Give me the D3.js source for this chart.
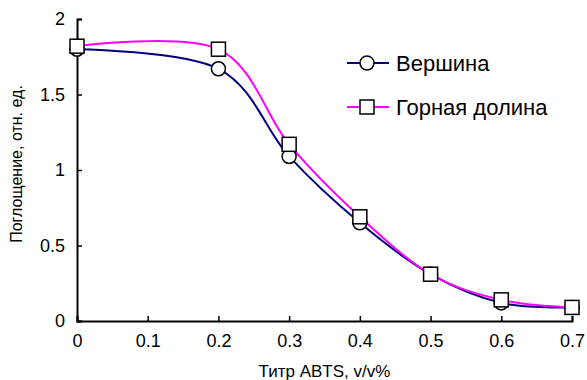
<!DOCTYPE html>
<html>
<head>
<meta charset="utf-8">
<script src="https://cdn.jsdelivr.net/npm/d3@7"></script>
<style>
  body { margin: 0; background: #fff; }
  text { font-family: "Liberation Sans", Arial, sans-serif; fill: #000; }
</style>
</head>
<body>
<div class="chart-wrapper"></div>
<script>
// Data
var titr = [0, 0.2, 0.3, 0.4, 0.5, 0.6, 0.7];
var vershina = [1.80, 1.67, 1.09, 0.65, 0.31, 0.12, 0.09];
var vershinaErr = [0.03, 0.04, 0.02, 0.02, 0.02, 0.02, 0.02];
var dolina = [1.82, 1.80, 1.17, 0.69, 0.31, 0.14, 0.09];
var dolinaErr = [0.04, 0.03, 0.02, 0.02, 0.02, 0.02, 0.02];
var xTicks = [0, 0.1, 0.2, 0.3, 0.4, 0.5, 0.6, 0.7];
var yTicks = [0, 0.5, 1, 1.5, 2];
var seriesNames = ["Вершина", "Горная долина"];

var width = 587, height = 380;
var margin = {left: 77, right: 15, top: 19, bottom: 59};

var svg = d3.select(".chart-wrapper").append("svg")
  .attr("width", width)
  .attr("height", height);

var x = d3.scaleLinear().domain([0, 0.7]).range([margin.left, width - margin.right]);
var y = d3.scaleLinear().domain([0, 2]).range([height - margin.bottom, margin.top]);

// axes, ticks pointing inside
svg.append("g")
  .attr("transform", "translate(0," + y(0) + ")")
  .call(d3.axisBottom(x).tickValues(xTicks).tickSize(-5).tickPadding(13)
    .tickFormat(function(d) { return d3.format("")(+d.toFixed(1)); }))
  .call(function(g) {
    g.select(".domain").attr("stroke-width", 2);
    g.selectAll(".tick line").attr("stroke-width", 1.5);
    g.selectAll("text").style("font-size", "18px").attr("dy", "0.71em");
  });

svg.append("g")
  .attr("transform", "translate(" + x(0) + ",0)")
  .call(d3.axisLeft(y).tickValues(yTicks).tickSize(-5).tickPadding(12)
    .tickFormat(function(d) { return d; }))
  .call(function(g) {
    g.select(".domain").attr("stroke-width", 2);
    g.selectAll(".tick line").attr("stroke-width", 1.5);
    g.selectAll("text").style("font-size", "18px");
  });

// axis titles
svg.append("text")
  .attr("x", (x(0) + x(0.7)) / 2)
  .attr("y", 377)
  .attr("text-anchor", "middle")
  .style("font-size", "17px")
  .text("Титр ABTS, v/v%");

svg.append("text")
  .attr("transform", "translate(22," + ((y(0) + y(2)) / 2 - 6) + ") rotate(-90)")
  .attr("text-anchor", "middle")
  .style("font-size", "16px")
  .text("Поглощение, отн. ед.");

var line = d3.line()
  .x(function(d) { return x(d[0]); })
  .y(function(d) { return y(d[1]); })
  .curve(d3.curveCardinal.tension(0));

function drawErr(vals, errs) {
  titr.forEach(function(t, i) {
    var g = svg.append("g").attr("stroke", "#000").attr("stroke-width", 1.5);
    g.append("line").attr("x1", x(t)).attr("x2", x(t))
      .attr("y1", y(vals[i] - errs[i])).attr("y2", y(vals[i] + errs[i]));
    g.append("line").attr("x1", x(t) - 4).attr("x2", x(t) + 4)
      .attr("y1", y(vals[i] - errs[i])).attr("y2", y(vals[i] - errs[i]));
    g.append("line").attr("x1", x(t) - 4).attr("x2", x(t) + 4)
      .attr("y1", y(vals[i] + errs[i])).attr("y2", y(vals[i] + errs[i]));
  });
}

drawErr(vershina, vershinaErr);
drawErr(dolina, dolinaErr);

svg.append("path")
  .datum(titr.map(function(t, i) { return [t, vershina[i]]; }))
  .attr("fill", "none")
  .attr("stroke", "#000080")
  .attr("stroke-width", 2)
  .attr("d", line);

svg.append("path")
  .datum(titr.map(function(t, i) { return [t, dolina[i]]; }))
  .attr("fill", "none")
  .attr("stroke", "#ff00ff")
  .attr("stroke-width", 2)
  .attr("d", line);

// markers
svg.selectAll(".circ")
  .data(titr.map(function(t, i) { return [t, vershina[i]]; }))
  .enter().append("circle")
  .attr("class", "circ")
  .attr("cx", function(d) { return x(d[0]); })
  .attr("cy", function(d) { return y(d[1]); })
  .attr("r", 7)
  .attr("fill", "#fff")
  .attr("stroke", "#000")
  .attr("stroke-width", 1.5);

svg.selectAll(".sq")
  .data(titr.map(function(t, i) { return [t, dolina[i]]; }))
  .enter().append("rect")
  .attr("class", "sq")
  .attr("x", function(d) { return x(d[0]) - 7; })
  .attr("y", function(d) { return y(d[1]) - 7; })
  .attr("width", 14)
  .attr("height", 14)
  .attr("fill", "#fff")
  .attr("stroke", "#000")
  .attr("stroke-width", 1.5);

// legend
var legend = svg.append("g").attr("transform", "translate(347,63)");
var colors = ["#000080", "#ff00ff"];
seriesNames.forEach(function(name, i) {
  var g = legend.append("g").attr("transform", "translate(0," + i * 44 + ")");
  g.append("line").attr("x1", 0).attr("x2", 42).attr("y1", 0).attr("y2", 0)
    .attr("stroke", colors[i]).attr("stroke-width", 2);
  if (i === 0) {
    g.append("circle").attr("cx", 20).attr("cy", 0).attr("r", 7)
      .attr("fill", "#fff").attr("stroke", "#000").attr("stroke-width", 1.5);
  } else {
    g.append("rect").attr("x", 13).attr("y", -7).attr("width", 14).attr("height", 14)
      .attr("fill", "#fff").attr("stroke", "#000").attr("stroke-width", 1.5);
  }
  g.append("text").attr("x", 49).attr("y", 0).attr("dy", "0.36em")
    .style("font-size", "22px").text(name);
});
</script>
</body>
</html>
